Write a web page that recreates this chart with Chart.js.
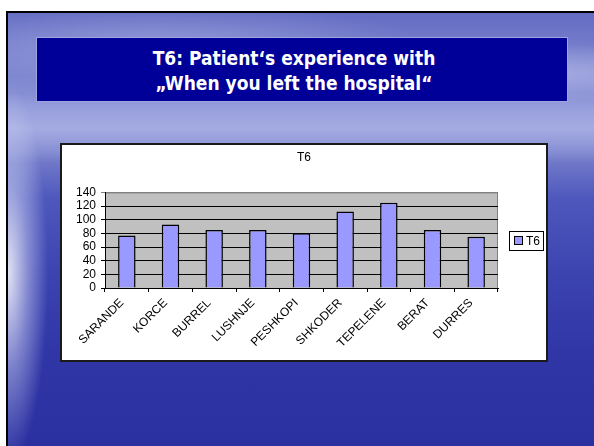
<!DOCTYPE html>
<html>
<head>
<meta charset="utf-8">
<script src="https://cdn.jsdelivr.net/npm/chart.js@4.4.0/dist/chart.umd.min.js"></script>
<style>
  html, body { margin: 0; padding: 0; width: 594px; height: 446px; overflow: hidden; background: #fff; }
  #slide {
    position: absolute; left: 6px; top: 11px; width: 588px; height: 435px;
    border-left: 2px solid #000; border-top: 2px solid #000; box-sizing: border-box;
    background:
      radial-gradient(ellipse 40px 190px at 0px 260px, rgba(255,255,255,0.85), rgba(220,224,250,0.45) 50%, rgba(255,255,255,0) 100%),
      radial-gradient(ellipse 200px 30px at 520px 60px, rgba(210,214,245,0.5), rgba(255,255,255,0) 100%),
      radial-gradient(ellipse 260px 40px at 150px 30px, rgba(200,205,242,0.35), rgba(255,255,255,0) 100%),
      linear-gradient(to bottom, rgba(255,255,255,0) 80px, rgba(200,205,242,0.5) 115px, rgba(200,205,242,0.3) 130px, rgba(255,255,255,0) 150px),
      linear-gradient(to bottom, #626cc2 0px, #7880cc 40px, #8a92d6 95px, #7880cc 140px, #4e58bc 185px, #3c44b0 260px, #3036a6 340px, #2a30a0 435px);
  }
  #title {
    position: absolute; left: 36px; top: 37px; width: 532px; height: 65px;
    background: #000099; border: 1px solid #a0a4dc; box-sizing: border-box;
    color: #fff; text-align: center; padding-right: 16px;
    font: bold 19px "DejaVu Sans Condensed", "DejaVu Sans", sans-serif; line-height: 25px;
    padding-top: 8px;
  }
  #box {
    position: absolute; left: 60px; top: 143px; width: 488px; height: 219px;
    border: 2px solid #1a1a1a; background: #fff; box-sizing: border-box;
  }
  canvas { display: block; }
</style>
</head>
<body>
<div id="slide"></div>
<div id="title">T6: Patient‘s experience with<br>„When you left the hospital“</div>
<div id="box"><canvas id="chart" width="484" height="215"></canvas></div>
<script>
const categories = ['SARANDE', 'KORCE', 'BURREL', 'LUSHNJE', 'PESHKOPI', 'SHKODER', 'TEPELENE', 'BERAT', 'DURRES'];
const t6Values = [77, 93, 85, 85, 80, 112, 125, 85, 75];
const seriesName = 'T6';
const yMax = 140;
const yStep = 20;

const FONT = '"Liberation Sans", Arial, sans-serif';

// gray plot area like the old Excel chart
const plotBackground = {
  id: 'plotBackground',
  afterLayout(chart) {
    // centre the title over the whole box, not only the part left of the legend
    const t = chart.titleBlock;
    t.left = 0;
    t.right = chart.width;
    t.width = chart.width;
  },
  beforeDraw(chart) {
    const { ctx, chartArea: a } = chart;
    ctx.save();
    ctx.fillStyle = '#C0C0C0';
    ctx.fillRect(a.left, a.top, a.right - a.left, a.bottom - a.top);
    ctx.strokeStyle = '#808080';
    ctx.lineWidth = 1;
    ctx.strokeRect(a.left + 0.5, a.top + 0.5, a.right - a.left - 1, a.bottom - a.top);
    ctx.restore();
  }
};

// boxed legend on the right, centred on the plot
const legendBox = {
  id: 'legendBox',
  afterDraw(chart) {
    const { ctx, chartArea: a } = chart;
    const ds = chart.data.datasets[0];
    const w = 34, h = 19;
    const x = a.right + 11;
    const y = Math.round((a.top + a.bottom) / 2 - h / 2);
    ctx.save();
    ctx.fillStyle = '#fff';
    ctx.fillRect(x, y, w, h);
    ctx.strokeStyle = '#000';
    ctx.lineWidth = 1;
    ctx.strokeRect(x + 0.5, y + 0.5, w, h);
    ctx.fillStyle = ds.backgroundColor;
    ctx.fillRect(x + 6, y + 6, 7, 7);
    ctx.strokeRect(x + 5.5, y + 5.5, 8, 8);
    ctx.fillStyle = '#000';
    ctx.font = '12px ' + FONT;
    ctx.textBaseline = 'middle';
    ctx.fillText(ds.label, x + 17, y + h / 2 + 1);
    ctx.restore();
  }
};

new Chart(document.getElementById('chart'), {
  type: 'bar',
  data: {
    labels: categories,
    datasets: [{
      label: seriesName,
      data: t6Values,
      backgroundColor: '#9999FF',
      borderColor: '#000',
      borderWidth: 1.5,
      categoryPercentage: 1,
      barPercentage: 0.4
    }]
  },
  options: {
    responsive: false,
    animation: false,
    layout: { padding: { top: 0, right: 48, bottom: 0, left: 0 } },
    plugins: {
      legend: { display: false },
      tooltip: { enabled: false },
      title: {
        display: true,
        text: seriesName,
        color: '#000',
        font: { family: FONT, size: 12, weight: 'normal' },
        padding: { top: 5, bottom: 28 }
      }
    },
    scales: {
      x: {
        grid: { display: true, drawOnChartArea: false, drawTicks: true, tickLength: 4, color: '#000', offset: true },
        border: { display: true, color: '#000', width: 1 },
        ticks: {
          color: '#000', font: { family: FONT, size: 12 },
          maxRotation: 45, minRotation: 45, autoSkip: false, padding: 4, labelOffset: -5
        },
        afterFit(scale) { scale.height = 72; }
      },
      y: {
        min: 0, max: yMax,
        grid: {
          color: (c) => (c.tick && c.tick.value === yMax ? '#808080' : '#000'),
          drawTicks: true, tickLength: 4, lineWidth: 1
        },
        border: { display: true, color: '#000', width: 1 },
        ticks: { stepSize: yStep, autoSkip: false, color: '#000', font: { family: FONT, size: 12 }, padding: 5 },
        afterFit(scale) { scale.width = 43; }
      }
    }
  },
  plugins: [plotBackground, legendBox]
});
</script>
</body>
</html>
